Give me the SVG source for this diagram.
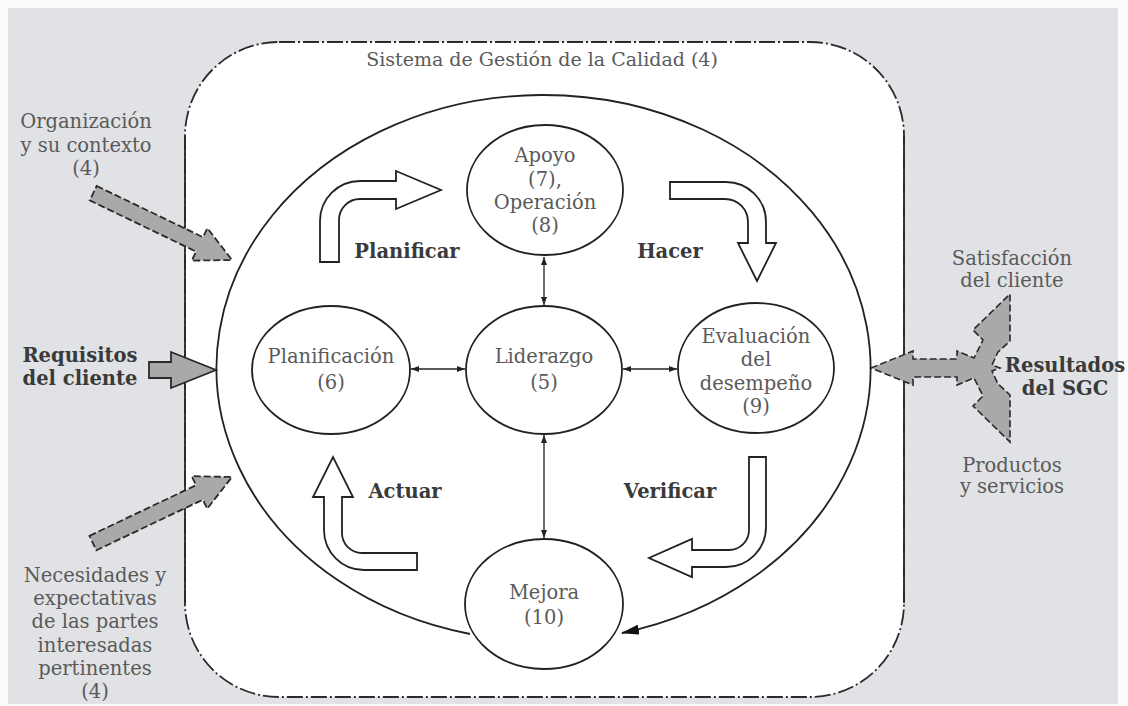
<svg xmlns="http://www.w3.org/2000/svg" width="1128" height="706" viewBox="0 0 1128 706">
<defs>
<style>
.bg{fill:#e0e2e5}
.node{fill:#fff;stroke:#222;stroke-width:1.8}
.t{font-family:"DejaVu Serif","Liberation Serif",serif;font-size:19.5px;fill:#5a5a5a;text-anchor:middle}
.b{font-family:"DejaVu Serif","Liberation Serif",serif;font-size:19.5px;font-weight:bold;fill:#3a3a3a;text-anchor:middle}
.thin{fill:none;stroke:#222;stroke-width:1.3;marker-start:url(#sm);marker-end:url(#sm)}
.cyc{fill:#fff;stroke:#222;stroke-width:1.8;stroke-linejoin:miter}
.ga{fill:#a9a9a9;stroke:#2a2a2a;stroke-width:1.8;stroke-dasharray:7 3}
.gs{fill:#a9a9a9;stroke:#2a2a2a;stroke-width:1.8}
.go{fill:#a9a9a9;stroke:#2a2a2a;stroke-width:1.6;stroke-dasharray:7 3;stroke-linejoin:miter}
</style>
<marker id="sm" viewBox="0 0 8 6" refX="8" refY="3" markerWidth="8" markerHeight="6" markerUnits="userSpaceOnUse" orient="auto-start-reverse"><path d="M0,0 L8,3 L0,6 z" fill="#222"/></marker>
<marker id="big" viewBox="0 0 18 10" refX="17" refY="5" markerWidth="18" markerHeight="10" markerUnits="userSpaceOnUse" orient="auto"><path d="M0,0 L18,5 L0,10 z" fill="#111"/></marker>
</defs>
<rect x="0" y="0" width="1128" height="706" fill="#fbfbfb"/>
<rect class="bg" x="8" y="8" width="1110" height="696"/>
<g id="sgc">
<rect x="185" y="42" width="719" height="655" rx="94" ry="94" fill="#fff" stroke="#2a2a2a" stroke-width="1.8" stroke-dasharray="16 3 2 3"/>
<line x1="185" y1="136" x2="185" y2="603" stroke="#2a2a2a" stroke-width="1.8"/>
<line x1="904" y1="136" x2="904" y2="603" stroke="#2a2a2a" stroke-width="1.8"/>
<text class="t" x="542" y="66" style="font-size:19px">Sistema de Gesti&#243;n de la Calidad (4)</text>
</g>
<g id="connectors">
<path d="M470,634 A327,273 0 1 1 622,633" fill="none" stroke="#222" stroke-width="1.8" marker-end="url(#big)"/>
<line class="thin" x1="544" y1="257" x2="544" y2="305"/>
<line class="thin" x1="411" y1="369" x2="465" y2="369"/>
<line class="thin" x1="623" y1="369" x2="677" y2="369"/>
<line class="thin" x1="544" y1="435" x2="544" y2="538"/>
</g>
<g id="cycle-arrows">
<path class="cyc" d="M320,262 V221 A40,40 0 0 1 360,181 H396 V171 L441,190 L396,209 V199 H360 A21,21 0 0 0 339,220 V262 Z"/>
<path class="cyc" d="M670,182 H726 A40,40 0 0 1 766,222 V243 H776 L757,281 L738,243 H748 V222 A23,23 0 0 0 725,199 H670 Z"/>
<path class="cyc" d="M749,457 H766 V527 A40,40 0 0 1 726,567 H692 V577 L649,558 L692,539 V550 H729 A20,20 0 0 0 749,530 Z"/>
<path class="cyc" d="M342,497 H353 L333,457 L313,497 H324 V530 A40,40 0 0 0 364,570 H417 V553 H362 A20,20 0 0 1 342,533 Z"/>
<text class="b" x="407" y="258">Planificar</text>
<text class="b" x="670" y="258">Hacer</text>
<text class="b" x="405" y="498">Actuar</text>
<text class="b" x="670" y="498">Verificar</text>
</g>
<g id="node-apoyo">
<ellipse class="node" cx="545" cy="190" rx="78" ry="65"/>
<text class="t" x="545" y="162">Apoyo</text>
<text class="t" x="545" y="186">(7),</text>
<text class="t" x="545" y="209">Operaci&#243;n</text>
<text class="t" x="545" y="232">(8)</text>
</g>
<g id="node-planificacion">
<ellipse class="node" cx="331" cy="370" rx="79" ry="64"/>
<text class="t" x="331" y="363">Planificaci&#243;n</text>
<text class="t" x="331" y="389">(6)</text>
</g>
<g id="node-liderazgo">
<ellipse class="node" cx="544" cy="370" rx="78" ry="64"/>
<text class="t" x="544" y="363">Liderazgo</text>
<text class="t" x="544" y="389">(5)</text>
</g>
<g id="node-evaluacion">
<ellipse class="node" cx="756" cy="368" rx="78" ry="65"/>
<text class="t" x="756" y="343">Evaluaci&#243;n</text>
<text class="t" x="756" y="366">del</text>
<text class="t" x="756" y="390">desempe&#241;o</text>
<text class="t" x="756" y="413">(9)</text>
</g>
<g id="node-mejora">
<ellipse class="node" cx="544" cy="604" rx="79" ry="65"/>
<text class="t" x="544" y="599">Mejora</text>
<text class="t" x="544" y="624">(10)</text>
</g>
<g id="input-organizacion">
<polygon class="ga" transform="translate(232,260) rotate(25.7)" points="-154,-8 -36,-8 -36,-18 0,0 -36,18 -36,8 -154,8"/>
<text class="t" x="86" y="128">Organizaci&#243;n</text>
<text class="t" x="86" y="152">y su contexto</text>
<text class="t" x="86" y="175">(4)</text>
</g>
<g id="input-requisitos">
<polygon class="gs" points="149,362 171,362 171,352 216,370 171,388 171,378 149,378"/>
<text class="b" x="80" y="362">Requisitos</text>
<text class="b" x="80" y="385">del cliente</text>
</g>
<g id="input-necesidades">
<polygon class="ga" transform="translate(232,477) rotate(-25.4)" points="-154,-8 -36,-8 -36,-18 0,0 -36,18 -36,8 -154,8"/>
<text class="t" x="95" y="582">Necesidades y</text>
<text class="t" x="95" y="605">expectativas</text>
<text class="t" x="95" y="628">de las partes</text>
<text class="t" x="95" y="652">interesadas</text>
<text class="t" x="95" y="675">pertinentes</text>
<text class="t" x="95" y="698">(4)</text>
</g>
<g id="output-resultados">
<polygon class="go" points="871,368 913,351 913,359 957,359 957,351 974,358 983,340 973,330 1010,294 1010,341 998,352 992,365 1000,368 992,371 998,384 1010,395 1010,442 973,406 983,396 974,378 957,385 957,377 913,377 913,385"/>
<text class="t" x="1012" y="265">Satisfacci&#243;n</text>
<text class="t" x="1012" y="287">del cliente</text>
<text class="b" x="1065" y="372">Resultados</text>
<text class="b" x="1065" y="395">del SGC</text>
<text class="t" x="1012" y="472">Productos</text>
<text class="t" x="1012" y="493">y servicios</text>
</g>
</svg>
